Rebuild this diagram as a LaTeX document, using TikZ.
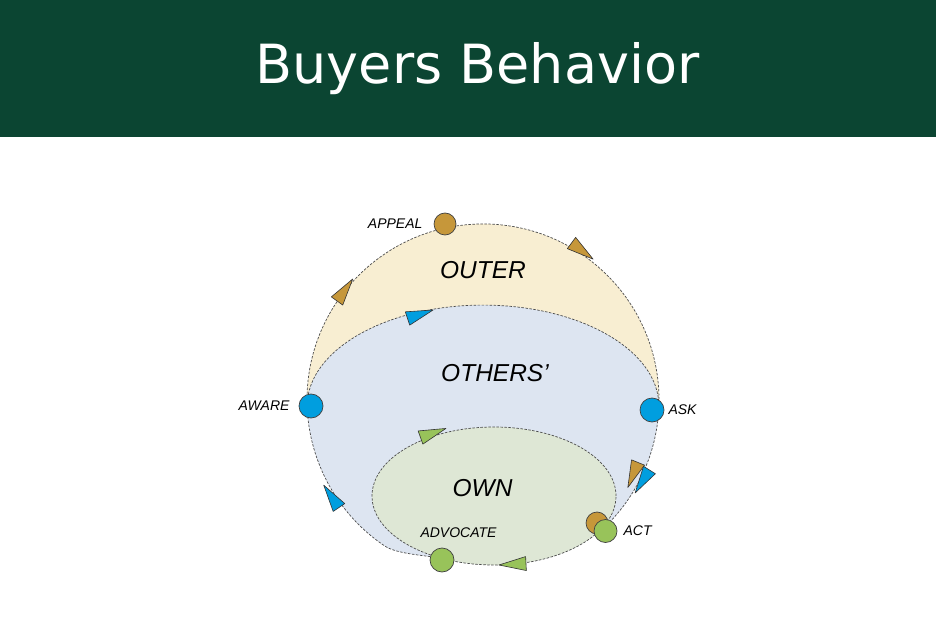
\documentclass[tikz,border=0pt]{standalone}
\usepackage{fontspec}
\setmainfont{Liberation Sans}
\newfontfamily\titlefont{DejaVu Sans}
\usetikzlibrary{positioning}

\definecolor{headgreen}{RGB}{11,69,50}
\definecolor{outerfill}{RGB}{248,238,210}
\definecolor{othersfill}{RGB}{221,229,241}
\definecolor{ownfill}{RGB}{222,231,213}
\definecolor{stagebrown}{RGB}{198,151,58}
\definecolor{stageblue}{RGB}{0,158,223}
\definecolor{stagegreen}{RGB}{152,195,90}

\begin{document}
\begin{tikzpicture}[x=1pt, y=1pt,
            loopline/.style={dash pattern=on 2.5pt off 1.5pt, line width=0.7pt, color=black!70},
            flagtri/.style={line width=0.6pt, draw=black!80, line join=round},
            stagedot/.style={circle, fill=#1, draw=black!75, line width=0.7pt, inner sep=0pt, minimum size=23pt},
            stagelabel/.style={font=\fontsize{14}{16}\selectfont\itshape, inner sep=0pt},
            ringlabel/.style={font=\fontsize{24.5}{28}\selectfont\itshape, inner sep=0pt}
        ]
            \useasboundingbox (0,0) rectangle (936,630);
            \fill[white] (0,0) rectangle (936,630);

            % header
            \fill[headgreen] (0,493) rectangle (936,630);
            \node[font=\titlefont\fontsize{54}{60}\selectfont, text=white, anchor=base] (title) at (477.5,546) {Buyers Behavior};

            % regions
            \fill[outerfill] (307.1,223.9) arc[start angle=182, end angle=-2, radius=176] -- cycle;
            \fill[othersfill] (307.1,223.9) arc[start angle=180, end angle=0, x radius=175.9, y radius=101]
                arc[start angle=-2, end angle=-46.7, radius=176] -- (605,105.4)
                arc[start angle=-24.5, end angle=-115.2, x radius=122, y radius=69]
                .. controls (427,74.6) and (397,75.7) .. (384.6,84.1)
                arc[start angle=236, end angle=182, radius=176] -- cycle;
            \fill[ownfill] (494,134) ellipse[x radius=122, y radius=69];

            % loops
            \draw[loopline] (307.1,223.9) arc[start angle=182, end angle=-46.7, radius=176];
            \draw[loopline] (307.1,223.9) arc[start angle=180, end angle=0, x radius=175.9, y radius=101];
            \draw[loopline] (442.1,71.6) .. controls (427,74.6) and (397,75.7) .. (384.6,84.1)
                arc[start angle=236, end angle=182, radius=176];
            \draw[loopline] (494,134) ellipse[x radius=122, y radius=69];

            % arrow flags
            \foreach \x/\y/\a/\c in {344/338.8/54.5/stagebrown, 581.1/379.8/-36.7/stagebrown,
                    633.5/156.4/-112.2/stagebrown, 418.9/315.3/18.4/stageblue,
                    643.1/149.8/-122/stageblue, 332.2/132.4/124.3/stageblue,
                    431.8/196.5/19.7/stagegreen, 514/65.8/183/stagegreen}{
                \draw[flagtri, fill=\c, shift={(\x,\y)}, rotate=\a] (15,0) -- (-12,7) -- (-12,-7) -- cycle;
            }

            % stages
            \node[stagedot=stagebrown, minimum size=22pt] (appeal) at (445,406) {};
            \node[stagedot=stageblue, minimum size=24pt] (aware) at (311,224) {};
            \node[stagedot=stageblue, minimum size=24pt] (ask) at (652,220) {};
            \node[stagedot=stagebrown, minimum size=22pt] (actback) at (597,107) {};
            \node[stagedot=stagegreen] (act) at (605.5,99) {};
            \node[stagedot=stagegreen, minimum size=24pt] (advocate) at (442,70) {};

            % stage names
            \node[stagelabel, left=11pt of appeal] {APPEAL};
            \node[stagelabel, left=9pt of aware] {AWARE};
            \node[stagelabel, right=4pt of ask] {ASK};
            \node[stagelabel, right=6pt of act] {ACT};
            \node[stagelabel, above=10pt of advocate, xshift=16.5pt] {ADVOCATE};

            % ring names
            \node[ringlabel] (outer) at (483,360) {OUTER};
            \node[ringlabel] (others) at (495,256.5) {OTHERS'};
            \node[ringlabel] (own) at (482.5,141.5) {OWN};

        \end{tikzpicture}
\end{document}
